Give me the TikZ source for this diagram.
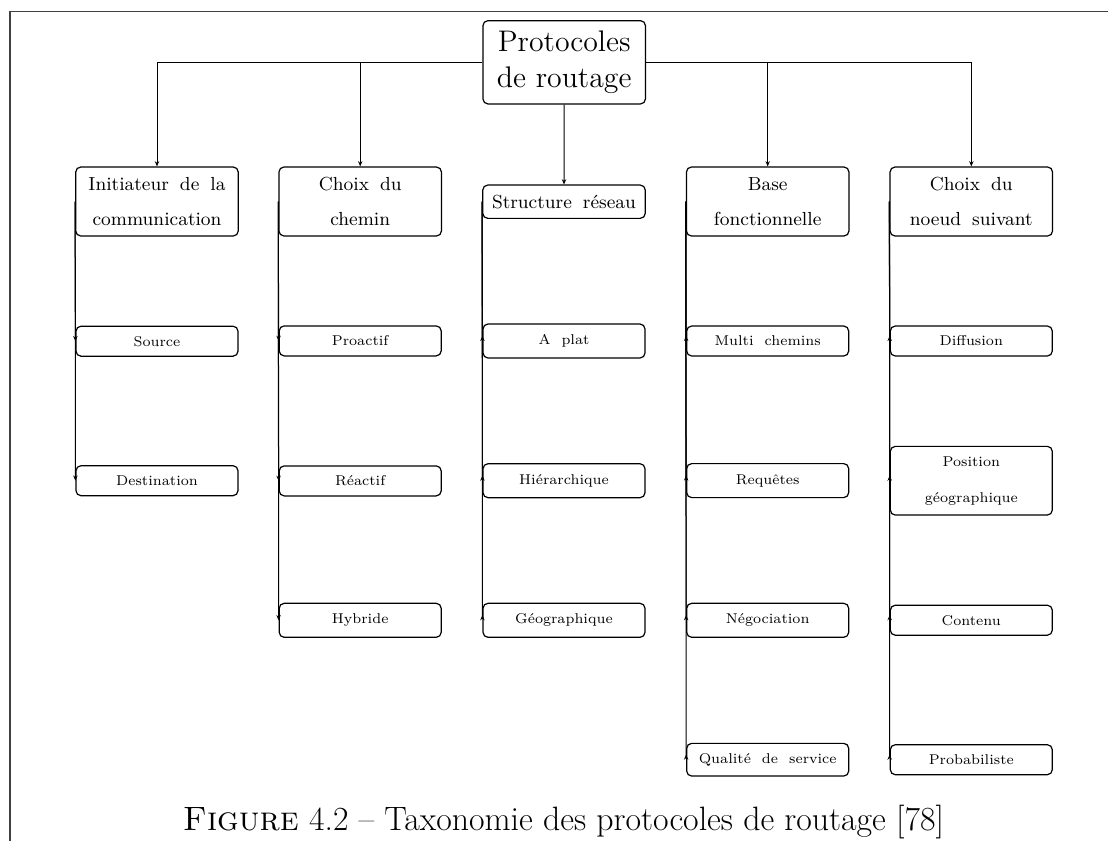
\documentclass[tikz,border=0pt]{standalone}
\usepackage{fontspec}
\usetikzlibrary{arrows.meta}
\begin{document}
\begin{tikzpicture}[x=0.5pt,y=-0.5pt,
  basebox/.style={draw, line width=0.6pt, rounded corners=2.5pt, inner sep=0pt, align=center},
  rootbox/.style={basebox, minimum width=81.25pt, minimum height=41.65pt,
    font={\fontsize{14.9}{17.6}\selectfont}},
  catbox/.style={basebox, minimum width=81.25pt, minimum height=34.5pt,
    font={\fontsize{9.45}{17.5}\selectfont\spaceskip=5.5pt\relax}},
  leafbox/.style={basebox, minimum width=81pt, minimum height=15pt,
    font={\fontsize{7.1}{18}\selectfont\spaceskip=5.5pt\relax}},
  tallbox/.style={minimum height=17pt},
  conn/.style={line width=0.5pt, -{Stealth[length=2.6pt,width=2.2pt]}},
  connup/.style={line width=0.5pt, -{Stealth[length=2.6pt,width=2.2pt,reversed]}},
  framel/.style={line width=0.6pt, draw=black!75},
  captionfont/.style={font={\fontsize{16.9}{19}\selectfont}}
]
\useasboundingbox (0,0) rectangle (1108,841);

% frame
\coordinate (fbl) at (10,841);
\coordinate (ftl) at (10,11.7);
\coordinate (ftr) at (1108,11.7);
\draw[framel] (fbl) -- (ftl) -- (ftr);

% root
\node[rootbox] (root) at (564.2,62.3) {Protocoles\\de routage};

% categories
\node[catbox] (c1) at (157,201.5) {Initiateur de la\\communication};
\node[catbox] (c2) at (360.2,201.5) {Choix du\\chemin};
\node[catbox, minimum height=16.65pt] (c3) at (564,201.7) {Structure réseau};
\node[catbox] (c4) at (767.7,201.5) {Base\\fonctionnelle};
\node[catbox] (c5) at (971.3,201.5) {Choix du\\noeud suivant};

% leaves column 1
\node[leafbox] (s11) at (157,341.2) {Source};
\node[leafbox] (s12) at (157,480.7) {Destination};
% column 2
\node[leafbox] (s21) at (360.2,340.9) {Proactif};
\node[leafbox] (s22) at (360.2,480.9) {Réactif};
\node[leafbox, tallbox] (s23) at (360.2,620.3) {Hybride};
% column 3
\node[leafbox, tallbox] (s31) at (564,341) {A plat};
\node[leafbox, tallbox] (s32) at (564,480.7) {Hiérarchique};
\node[leafbox, tallbox] (s33) at (564,620.3) {Géographique};
% column 4
\node[leafbox] (s41) at (767.7,341) {Multi chemins};
\node[leafbox, tallbox] (s42) at (767.7,480.6) {Requêtes};
\node[leafbox, tallbox] (s43) at (767.7,620.3) {Négociation};
\node[leafbox, minimum height=16.35pt] (s44) at (767.7,759.7) {Qualité de service};
% column 5
\node[leafbox] (s51) at (971.3,341) {Diffusion};
\node[leafbox, minimum height=34.35pt] (s52) at (971.3,480.7) {Position\\géographique};
\node[leafbox] (s53) at (971.3,620.2) {Contenu};
\node[leafbox] (s54) at (971.3,759.7) {Probabiliste};

% root connectors
\draw[conn] (root.west) -| (c1.north);
\draw[conn] (root.west) -| (c2.north);
\draw[conn] (root.south) -- (c3.north);
\draw[conn] (root.east) -| (c4.north);
\draw[conn] (root.east) -| (c5.north);

% category connectors
\foreach \p/\c in {c1/s11, c1/s12, c2/s21, c2/s22, c2/s23}
  \draw[conn] (\p.west) -- (\c.west);
\foreach \p/\c in {c3/s31, c3/s32, c3/s33, c4/s41, c4/s42, c4/s43, c4/s44,
                   c5/s51, c5/s52, c5/s53, c5/s54}
  \draw[connup] (\p.west) -- (\c.west);

% caption
\node[captionfont, anchor=base, inner sep=0pt] (cap) at (563.5,830)
  {\textsc{Figure} 4.2 – Taxonomie des protocoles de routage [78]};
\end{tikzpicture}
\end{document}
